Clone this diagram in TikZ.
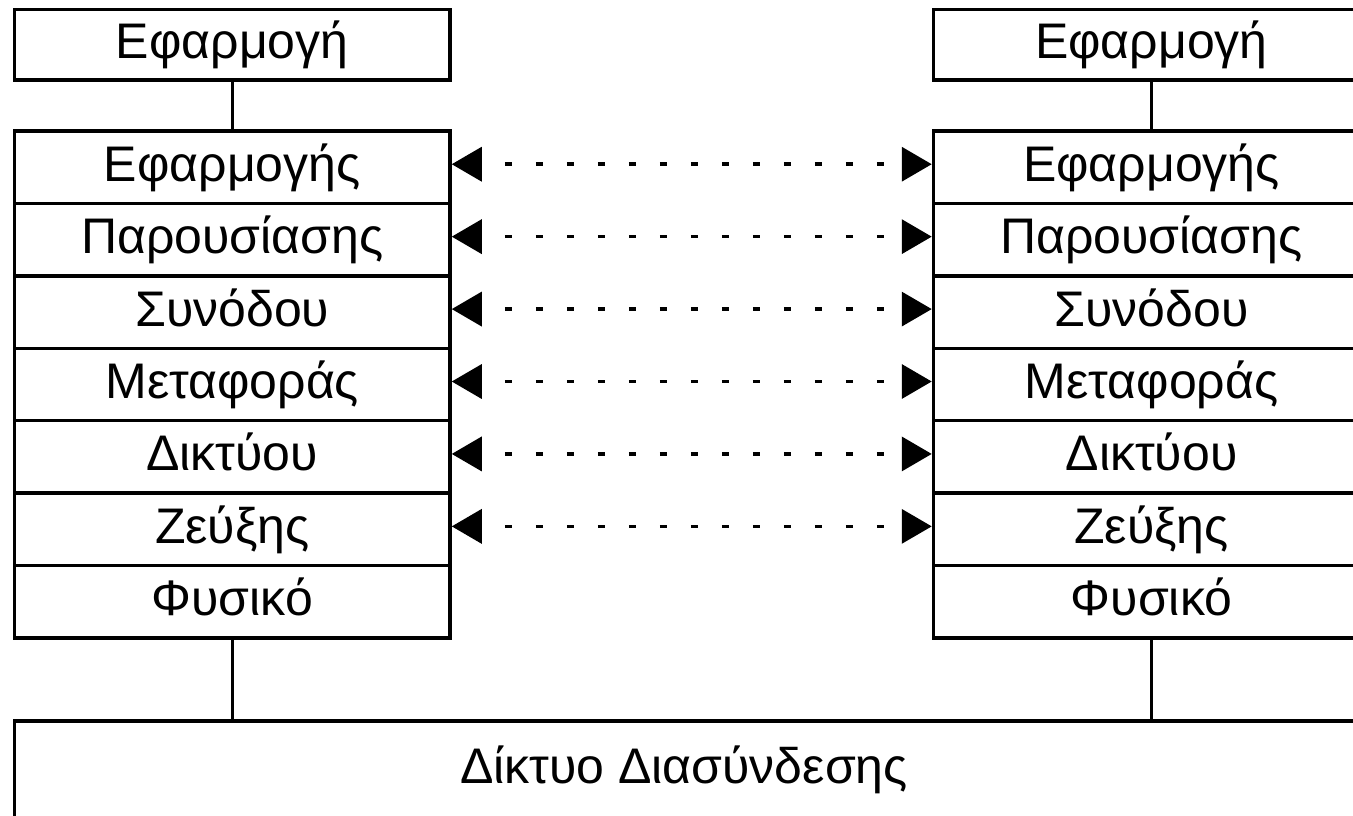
\documentclass[tikz,border=0pt]{standalone}
\usepackage{fontspec}
\setmainfont{Liberation Sans}
\usetikzlibrary{arrows.meta}
\begin{document}
\begin{tikzpicture}[x=1pt,y=-1pt,
  layer/.style={draw, line width=3.5pt, minimum width=435.5pt, minimum height=72.43pt,
    inner sep=0pt, font=\fontsize{50}{60}\selectfont, text height=28pt, text depth=0pt},
  appbox/.style={layer, minimum height=70.5pt},
  peer/.style={line width=3.5pt, dash pattern=on 7pt off 24pt, dash phase=7pt,
    {Triangle[length=30pt,width=34pt]}-{Triangle[length=30pt,width=34pt]}},
  wire/.style={line width=3.5pt},
  caption/.style={font=\fontsize{50}{60}\selectfont, inner sep=0pt}]
\clip (0,0) rectangle (1353,815);
\useasboundingbox (0,0) rectangle (1353,815);

% application on each host
\node[appbox] (appL) at (232.25,44.75) {Εφαρμογή};
\node[appbox, minimum width=436pt] (appR) at (1151.5,44.75) {Εφαρμογή};

% the seven OSI layers of both hosts
\foreach \t [count=\i] in {Εφαρμογής,Παρουσίασης,Συνόδου,Μεταφοράς,Δικτύου,Ζεύξης,Φυσικό} {
  \node[layer] (L\i) at (232.25,{131+72.43*(\i-0.5)}) {\t};
  \node[layer, minimum width=436pt] (R\i) at (1151.5,{131+72.43*(\i-0.5)}) {\t};
}

% interconnection network
\node[draw, line width=3.5pt, minimum width=1405.5pt, minimum height=179pt, inner sep=0pt]
  (net) at (717.25,810.5) {};
\node[caption, anchor=base] (netlabel) at (684,783) {Δίκτυο Διασύνδεσης};

% vertical links
\draw[wire] (appL.south) -- (L1.north);
\draw[wire] (appR.south) -- (R1.north);
\draw[wire] (L7.south) -- (L7.south |- net.north);
\draw[wire] (R7.south) -- (R7.south |- net.north);

% peer-to-peer protocol links
\foreach \i in {1,...,6}
  \draw[peer] ([yshift=3pt]L\i.east) -- ([yshift=3pt]R\i.west);
\end{tikzpicture}
\end{document}
